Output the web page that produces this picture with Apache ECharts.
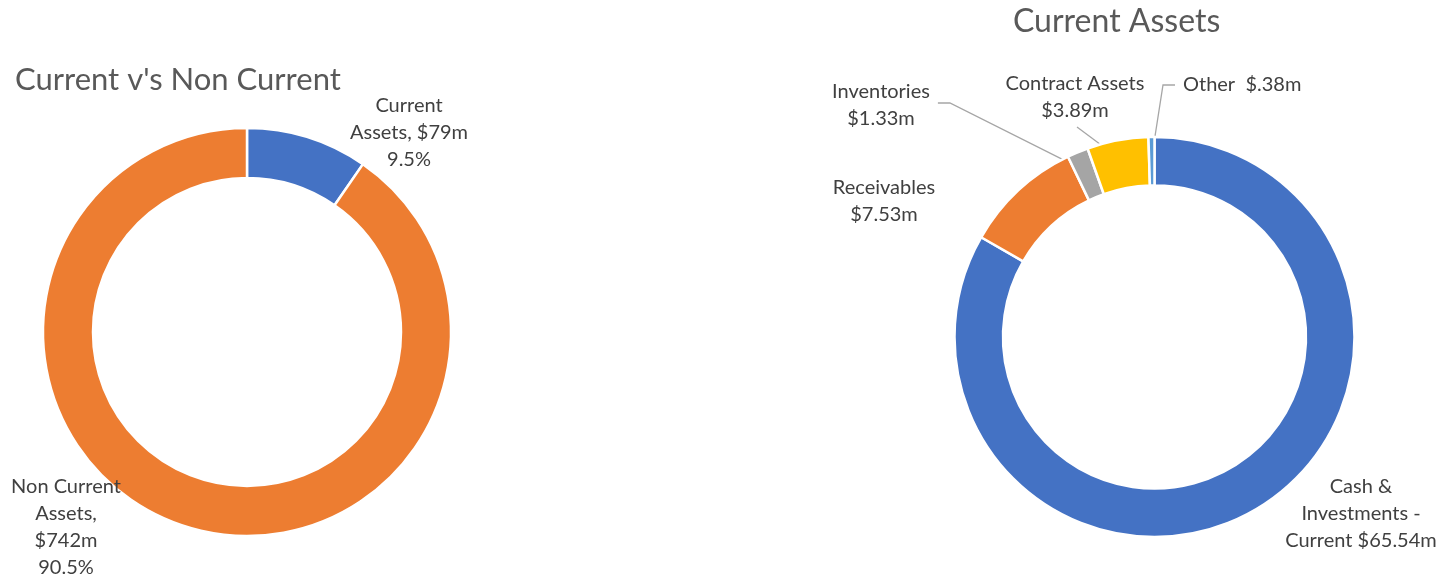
<!DOCTYPE html>
<html>
<head>
<meta charset="utf-8">
<script src="https://cdn.jsdelivr.net/npm/echarts@6/dist/echarts.min.js"></script>
<style>
  html, body { margin: 0; padding: 0; background: #ffffff; }
  #chart { width: 1442px; height: 578px; }
</style>
</head>
<body>
<div id="chart"></div>
<script>
// Current vs non-current assets ($m)
const splitNames = ['Current Assets', 'Non Current Assets'];
const splitValues = [79, 742];
const splitShares = ['9.5%', '90.5%'];
const splitColors = ['#4472C4', '#ED7D31'];

// Breakdown of current assets ($m)
const currentNames = ['Cash & Investments - Current', 'Receivables', 'Inventories', 'Contract Assets', 'Other'];
const currentValues = [65.54, 7.53, 1.33, 3.89, 0.38];
const currentColors = ['#4472C4', '#ED7D31', '#A5A5A5', '#FFC000', '#5B9BD5'];

const FONT = 'Lato';
const TITLE_COLOR = '#595959';
const LABEL_COLOR = '#404040';
const LEADER_COLOR = '#A6A6A6';

// Ring geometry
const leftRing = { cx: 247, cy: 332, r0: 154, r: 204 };
const rightRing = { cx: 1154.5, cy: 337, r0: 151.5, r: 200 };

const money = v => '$' + (v < 1 ? String(v).replace(/^0/, '') : String(v)) + 'm';

// Wrapped label text for each slice
const splitLabel = i => [
  'Current\nAssets, ' + money(splitValues[0]) + '\n' + splitShares[0],
  'Non Current\nAssets,\n' + money(splitValues[1]) + '\n' + splitShares[1]
][i];
const currentLabel = i => [
  'Cash &\nInvestments -\nCurrent ' + money(currentValues[0]),
  'Receivables\n' + money(currentValues[1]),
  'Inventories\n' + money(currentValues[2]),
  'Contract Assets\n' + money(currentValues[3]),
  'Other  ' + money(currentValues[4])
][i];

// Label anchors (centre of each text block, or left edge for "Other")
const splitLabelPos = [[409, 133], [66, 527]];
const currentLabelPos = [[1361, 514], [884, 201], [881, 105], [1075, 97], [1183, 85]];

// Mid-angle of a slice, degrees clockwise from 12 o'clock
function midAngle(values, idx) {
  const total = values.reduce((a, b) => a + b, 0);
  let before = 0;
  for (let k = 0; k < idx; k++) before += values[k];
  return (before + values[idx] / 2) / total * 360;
}
function ringPoint(ring, rad, deg) {
  const a = deg * Math.PI / 180;
  return [ring.cx + rad * Math.sin(a), ring.cy - rad * Math.cos(a)];
}

const labelStyle = {
  show: true,
  position: 'outside',
  color: LABEL_COLOR,
  fontFamily: FONT,
  fontSize: 20,
  lineHeight: 27
};

const chart = echarts.init(document.getElementById('chart'), null, { renderer: 'canvas' });

chart.setOption({
  animation: false,
  backgroundColor: '#ffffff',
  title: [
    {
      text: "Current v's Non Current",
      left: 15,
      top: 63,
      padding: 0,
      textStyle: { fontFamily: FONT, fontSize: 31, fontWeight: 'normal', color: TITLE_COLOR, lineHeight: 34 }
    },
    {
      text: 'Current Assets',
      left: 1013,
      top: 5,
      padding: 0,
      textStyle: { fontFamily: FONT, fontSize: 32, fontWeight: 'normal', color: TITLE_COLOR, lineHeight: 34 }
    }
  ],
  series: [
    {
      type: 'pie',
      center: [leftRing.cx, leftRing.cy],
      radius: [leftRing.r0, leftRing.r],
      startAngle: 90,
      clockwise: true,
      avoidLabelOverlap: false,
      emphasis: { disabled: true },
      itemStyle: { borderColor: '#ffffff', borderWidth: 2.5 },
      label: Object.assign({}, labelStyle, {
        formatter: p => splitLabel(p.dataIndex)
      }),
      labelLine: { show: false },
      labelLayout: p => ({
        x: splitLabelPos[p.dataIndex][0],
        y: splitLabelPos[p.dataIndex][1],
        align: 'center',
        verticalAlign: 'middle'
      }),
      data: splitNames.map((n, i) => ({
        name: n,
        value: splitValues[i],
        itemStyle: { color: splitColors[i] }
      }))
    },
    {
      type: 'pie',
      center: [rightRing.cx, rightRing.cy],
      radius: [rightRing.r0, rightRing.r],
      startAngle: 90,
      clockwise: true,
      avoidLabelOverlap: false,
      emphasis: { disabled: true },
      itemStyle: { borderColor: '#ffffff', borderWidth: 2.5 },
      label: Object.assign({}, labelStyle, {
        formatter: p => currentLabel(p.dataIndex)
      }),
      labelLine: { show: true, lineStyle: { color: LEADER_COLOR, width: 1.3 } },
      labelLayout: p => {
        const i = p.dataIndex;
        const [x, y] = currentLabelPos[i];
        const w = p.labelRect.width;
        const h = p.labelRect.height;
        const tip = ringPoint(rightRing, 180, midAngle(currentValues, i));
        const out = { x, y, align: i === 4 ? 'left' : 'center', verticalAlign: 'middle' };
        if (i === 2) {
          const s = [x + w / 2 + 8, y - 2];
          out.labelLinePoints = [s, [s[0] + 12, s[1]], tip];
        } else if (i === 3) {
          const s = [x + 2, y + h / 2 + 3];
          out.labelLinePoints = [s, s, tip];
        } else if (i === 4) {
          const s = [x - 8, y];
          out.labelLinePoints = [s, [x - 20, y], tip];
        }
        return out;
      },
      data: currentNames.map((n, i) => ({
        name: n,
        value: currentValues[i],
        itemStyle: { color: currentColors[i] },
        labelLine: { show: i >= 2 }
      }))
    }
  ]
});
</script>
</body>
</html>
